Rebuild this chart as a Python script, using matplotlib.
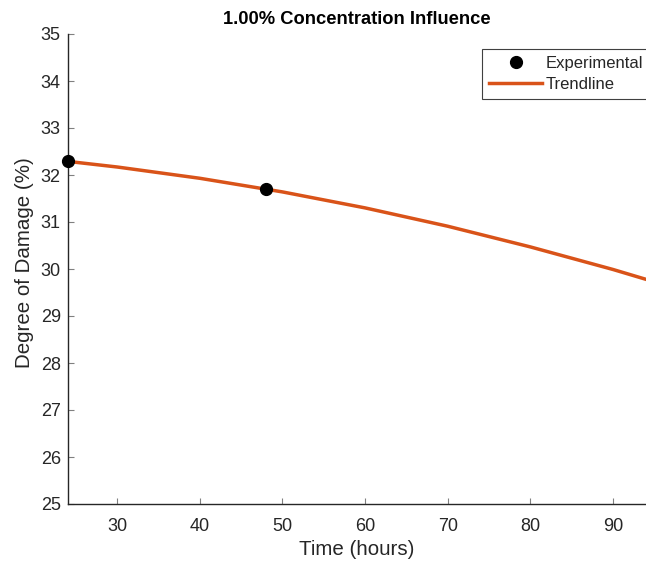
import matplotlib
matplotlib.use("Agg")
import matplotlib.pyplot as plt

# Measured degree of damage at each sampling time
exp_hours = [24, 48]
exp_damage = [32.3, 31.7]

# Fitted trendline values
trend_hours = [24, 30, 40, 50, 60, 70, 80, 90, 94]
trend_damage = [32.29, 32.17, 31.93, 31.64, 31.30, 30.91, 30.47, 29.99, 29.78]

xticks = [30, 40, 50, 60, 70, 80, 90]
yticks = [25, 26, 27, 28, 29, 30, 31, 32, 33, 34, 35]

plt.rcParams['font.family'] = ['Liberation Sans', 'DejaVu Sans']
dark = '#262626'

fig = plt.figure(figsize=(6.46, 5.65), dpi=100)
ax = fig.add_axes([67.7 / 646, 1 - 504 / 565, 1 - 67.7 / 646, (504 - 34) / 565])

ax.plot(trend_hours, trend_damage, color='#D95319', linewidth=2.5,
        label='Trendline', zorder=2)
ax.plot(exp_hours, exp_damage, 'o', color='black', markersize=8.5,
        label='Experimental', zorder=3, clip_on=False)

ax.set_xlim(24, 94)
ax.set_ylim(25, 35)
ax.set_xticks(xticks)
ax.set_yticks(yticks)

for side in ('top', 'right'):
    ax.spines[side].set_visible(False)
for side in ('left', 'bottom'):
    ax.spines[side].set_color(dark)
    ax.spines[side].set_linewidth(1.0)

ax.tick_params(direction='in', length=4, width=0.8, color='#808080',
               labelcolor=dark, labelsize=13)
ax.tick_params(axis='y', pad=5)
ax.tick_params(axis='x', pad=10)

ax.set_xlabel('Time (hours)', fontsize=14.8, color=dark, labelpad=4)
ax.set_ylabel('Degree of Damage (%)', fontsize=14.8, color=dark)
ax.yaxis.set_label_coords(-0.058, 0.513)
ax.set_title('1.00% Concentration Influence', fontsize=13.2, fontweight='bold',
             color='black', pad=7)

handles, labels = ax.get_legend_handles_labels()
leg = fig.legend(handles[::-1], labels[::-1], loc='upper left',
                 bbox_to_anchor=(482 / 646, 1 - 49 / 565),
                 bbox_transform=fig.transFigure, borderaxespad=0,
                 fontsize=12, frameon=True, fancybox=False, framealpha=1,
                 edgecolor='#404040', handlelength=3.2, handletextpad=0.2,
                 labelspacing=0.37, borderpad=0.42)
leg.get_frame().set_linewidth(0.8)
for t in leg.get_texts():
    t.set_color(dark)

fig.savefig('out.png', dpi=100)
